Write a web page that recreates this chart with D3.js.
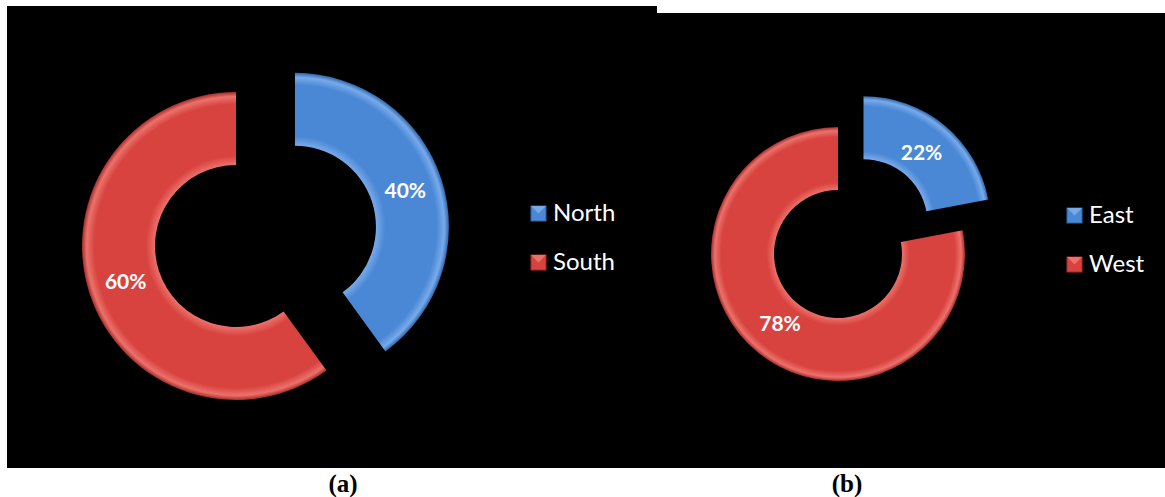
<!DOCTYPE html>
<html>
<head>
  <meta charset="utf-8" />
  <title>Donut charts (a) and (b)</title>
  <style type="text/css">
    body { margin: 0; background: #fff; }
    svg { display: block; }
    .lbl { font-family: Lato, sans-serif; font-weight: bold; fill: #fff; }
    .leg { font-family: Lato, sans-serif; fill: #fff; }
    .cap { font-family: 'Liberation Serif', serif; font-weight: bold; fill: #000; }
  </style>
</head>
<body>
<div id="graph"></div>
<script src="https://d3js.org/d3.v7.min.js"></script>
<script>
// chart (a)
var catsA = ["North", "South"];
var valsA = [40, 60];
// chart (b)
var catsB = ["East", "West"];
var valsB = [22, 78];

var colors = {
  blue: { base: "#4a88d6", light: "#78aaea", dark: "#2f65a8" },
  red:  { base: "#d8433f", light: "#ec716b", dark: "#a42c29" }
};

var svg = d3.select("#graph").append("svg")
    .attr("width", 1165)
    .attr("height", 497);

var defs = svg.append("defs");

// black panels
svg.append("rect").attr("x", 7).attr("y", 6).attr("width", 650).attr("height", 462).attr("fill", "#000");
svg.append("rect").attr("x", 653).attr("y", 13).attr("width", 512).attr("height", 455).attr("fill", "#000");

// radial gradient in the slice's own coordinates (centre at 0,0)
function bevel(id, c, r0, r1) {
  var g = defs.append("radialGradient")
      .attr("id", id)
      .attr("gradientUnits", "userSpaceOnUse")
      .attr("cx", 0).attr("cy", 0).attr("r", r1);
  var k = r0 / r1;
  g.append("stop").attr("offset", k).attr("stop-color", c.light);
  g.append("stop").attr("offset", k + 0.06).attr("stop-color", c.base);
  g.append("stop").attr("offset", 0.92).attr("stop-color", c.base);
  g.append("stop").attr("offset", 0.97).attr("stop-color", c.light);
  g.append("stop").attr("offset", 1).attr("stop-color", c.dark);
}

function donut(opt) {
  var pie = d3.pie().sort(null).value(function(d) { return d; });
  var arcs = pie(opt.values);
  var arc = d3.arc().innerRadius(opt.r0).outerRadius(opt.r1);
  var g = svg.append("g").attr("transform", "translate(" + opt.cx + "," + opt.cy + ")");

  arcs.forEach(function(a, i) {
    var mid = (a.startAngle + a.endAngle) / 2;
    var off = i === 0 ? opt.explode : 0;
    var dx = Math.sin(mid) * off, dy = -Math.cos(mid) * off;
    var id = opt.id + "-g" + i;
    bevel(id, opt.cols[i], opt.r0, opt.r1);
    var s = g.append("g").attr("transform", "translate(" + dx + "," + dy + ")");
    s.append("path")
      .attr("d", arc(a))
      .attr("fill", "url(#" + id + ")");
    var lr = opt.labelR;
    s.append("text")
      .attr("class", "lbl")
      .attr("x", Math.sin(mid) * lr)
      .attr("y", -Math.cos(mid) * lr)
      .attr("dy", "0.35em")
      .attr("text-anchor", "middle")
      .style("font-size", "21px")
      .text(opt.values[i] + "%");
  });

  // legend
  var leg = svg.append("g").attr("transform", "translate(" + opt.legX + "," + opt.legY + ")");
  opt.cats.forEach(function(c, i) {
    var row = leg.append("g").attr("transform", "translate(0," + (i * opt.legGap) + ")");
    var col = opt.cols[i];
    row.append("rect").attr("x", 0).attr("y", -15).attr("width", 15).attr("height", 15)
      .attr("fill", col.base).attr("stroke", col.dark).attr("stroke-width", 1);
    row.append("path").attr("d", "M0,-15L7.5,-7.5L15,-15Z").attr("fill", col.light);
    row.append("text").attr("class", "leg").attr("x", 22).attr("y", 0)
      .style("font-size", "24px").text(c);
  });
}

donut({ id: "a", values: valsA, cats: catsA, cols: [colors.blue, colors.red],
  cx: 236, cy: 246, r0: 81, r1: 154, explode: 62, labelR: 116,
  legX: 531, legY: 221, legGap: 49 });

donut({ id: "b", values: valsB, cats: catsB, cols: [colors.blue, colors.red],
  cx: 838, cy: 254, r0: 64, r1: 127, explode: 40, labelR: 91,
  legX: 1067, legY: 223, legGap: 49 });

svg.append("text").attr("class", "cap").attr("x", 343).attr("y", 492)
  .attr("text-anchor", "middle").style("font-size", "25px").text("(a)");
svg.append("text").attr("class", "cap").attr("x", 847).attr("y", 492)
  .attr("text-anchor", "middle").style("font-size", "25px").text("(b)");
</script>
</body>
</html>
